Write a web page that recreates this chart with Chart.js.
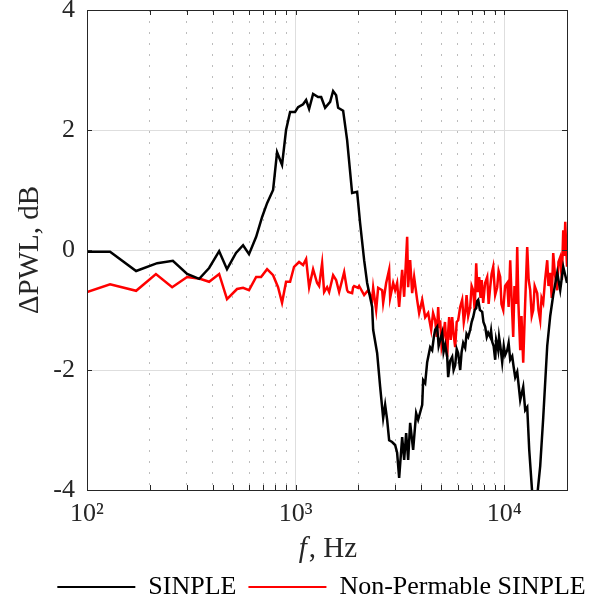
<!DOCTYPE html>
<html lang="en">
<head>
    <meta charset="UTF-8">
    <title>ΔPWL vs frequency</title>
    <script src="https://cdn.jsdelivr.net/npm/chart.js@4.4.0/dist/chart.umd.min.js"></script>
    <style>
        html, body { margin: 0; padding: 0; background: #fff; }
        #wrap { width: 603px; height: 606px; }
    </style>
</head>
<body>
<div id="wrap"><canvas id="chart"></canvas></div>
<script>
    // SINPLE (black)
    const sinpleFreq = [100, 129, 172, 217, 258, 302, 345, 385, 430, 469, 518, 560, 598, 647, 691, 730, 780, 815, 861, 900,
        941, 994, 1028, 1086, 1123, 1161, 1213, 1282, 1326, 1385, 1464, 1513, 1564, 1599, 1690, 1766, 1866, 1972, 2038, 2131,
        2203, 2328, 2354, 2460, 2543, 2629, 2687, 2747, 2808, 2902, 3000, 3067, 3136, 3242, 3314, 3388, 3464, 3541, 3660, 3783,
        3867, 4045, 4088, 4180, 4273, 4417, 4515, 4600, 4668, 4772, 4850, 4932, 5042, 5120, 5212, 5329, 5388, 5500, 5631, 5720,
        5821, 5920, 6017, 6152, 6250, 6359, 6500, 6600, 6720, 6870, 6980, 7101, 7220, 7341, 7420, 7505, 7650, 7844, 7950, 8108,
        8250, 8381, 8568, 8650, 8759, 8900, 9054, 9150, 9256, 9359, 9450, 9568, 9781, 9950, 10110, 10337, 10500, 10686, 10924, 11100,
        11292, 11545, 11934, 12334, 12610, 12892, 13180, 13624, 13775, 14395, 14880, 15382, 16077, 16619, 17179, 17955, 18560, 19187, 19616, 20000];
    const sinpleDb = [-0.03, -0.03, -0.35, -0.22, -0.18, -0.40, -0.48, -0.30, -0.02, -0.32, -0.05, 0.08, -0.07, 0.22, 0.55, 0.78, 1.00, 1.63, 1.42, 2.00,
        2.30, 2.30, 2.38, 2.43, 2.50, 2.35, 2.60, 2.55, 2.55, 2.37, 2.47, 2.65, 2.58, 2.37, 2.32, 1.83, 0.95, 0.97, 0.45, -0.17,
        -0.55, -0.95, -1.33, -1.72, -2.28, -2.80, -2.58, -2.83, -3.17, -3.20, -3.25, -3.38, -3.80, -3.12, -3.50, -3.05, -3.50, -2.88, -3.33, -2.72,
        -2.83, -2.58, -2.17, -2.22, -1.87, -1.62, -1.67, -1.45, -1.33, -1.28, -1.60, -1.50, -1.38, -1.70, -1.58, -1.78, -2.12, -1.85, -1.78, -2.00,
        -1.92, -1.65, -1.72, -2.00, -1.70, -1.55, -1.63, -1.40, -1.45, -1.33, -1.20, -1.12, -1.00, -0.97, -0.85, -0.83, -1.00, -1.03, -1.20, -1.28,
        -1.45, -1.38, -1.45, -1.35, -1.53, -1.60, -1.83, -1.50, -1.58, -1.67, -1.45, -1.58, -1.87, -1.60, -1.75, -1.67, -1.55, -1.83, -1.77, -1.95,
        -2.12, -2.03, -2.50, -2.28, -2.67, -2.62, -3.33, -4.05, -4.25, -4.10, -3.60, -2.80, -1.60, -1.10, -0.75, -0.38, -0.67, -0.28, -0.42, -0.55];

    // Non-Permable SINPLE (red)
    const nonPermFreq = [100, 129, 172, 214, 256, 302, 348, 385, 430, 469, 524, 560, 598, 647, 683, 730, 780, 824, 861, 900,
        941, 983, 1039, 1086, 1123, 1161, 1213, 1268, 1296, 1340, 1370, 1416, 1448, 1513, 1564, 1617, 1709, 1766, 1786, 1866,
        1887, 1908, 1994, 2016, 2131, 2227, 2328, 2354, 2433, 2487, 2600, 2629, 2717, 2808, 2839, 2935, 3000, 3067, 3136, 3242,
        3314, 3426, 3464, 3541, 3620, 3700, 3825, 3910, 4045, 4180, 4320, 4466, 4560, 4668, 4750, 4825, 4880, 4932, 5010, 5098,
        5200, 5329, 5390, 5447, 5540, 5631, 5720, 5821, 5920, 6017, 6150, 6289, 6400, 6500, 6600, 6720, 6870, 6980, 7101, 7220,
        7341, 7450, 7589, 7700, 7800, 7931, 8100, 8289, 8420, 8568, 8700, 8857, 9050, 9256, 9400, 9568, 9700, 9890, 10100, 10337,
        10500, 10686, 10850, 11046, 11200, 11400, 11545, 11700, 11934, 12100, 12334, 12600, 12892, 13100, 13326, 13550, 13775, 14000, 14395, 14600,
        14880, 15100, 15382, 15700, 16077, 16300, 16619, 16900, 17179, 17500, 17955, 18200, 18560, 18900, 19187, 19400, 19616, 19800, 20000];
    const nonPermDb = [-0.70, -0.57, -0.68, -0.40, -0.62, -0.45, -0.48, -0.53, -0.40, -0.82, -0.65, -0.63, -0.67, -0.45, -0.45, -0.32, -0.42, -0.62, -0.88, -0.53,
        -0.53, -0.28, -0.20, -0.25, -0.15, -0.62, -0.32, -0.55, -0.60, -0.22, -0.70, -0.62, -0.70, -0.42, -0.50, -0.70, -0.37, -0.67, -0.70, -0.72,
        -0.62, -0.60, -0.63, -0.60, -0.75, -0.67, -0.83, -0.63, -1.00, -0.63, -0.67, -0.88, -0.55, -0.33, -0.80, -0.55, -0.67, -0.55, -0.95, -0.33,
        -0.78, 0.22, -0.62, -0.17, -0.72, -0.45, -0.83, -1.05, -0.83, -1.12, -1.05, -1.33, -1.05, -1.17, -1.45, -0.95, -1.30, -1.17, -1.60, -1.45,
        -1.20, -1.78, -1.35, -1.12, -1.50, -1.12, -1.40, -1.62, -1.20, -1.17, -0.95, -0.83, -1.20, -1.05, -0.75, -1.10, -0.95, -0.60, -0.67, -1.00,
        -0.22, -0.70, -0.45, -0.80, -0.50, -0.88, -0.55, -0.45, -0.90, -0.62, -0.40, -0.28, -0.75, -0.62, -0.35, -0.45, -0.90, -1.00, -0.60, -0.55,
        -0.95, -0.17, -0.80, -1.45, -0.60, -0.90, 0.05, -0.90, -1.67, -1.10, -1.88, -0.90, 0.05, -0.50, -0.67, -1.10, -1.00, -0.60, -0.72, -1.00,
        -1.17, -0.80, -0.88, -0.50, -0.17, -0.60, -0.38, -0.80, -0.05, -0.40, -0.67, -0.20, -0.12, -0.50, 0.33, -0.10, 0.47, 0.10, -0.28];

    const xMajorTicks = [100, 1000, 10000];
    const xMajorLabels = ['10²', '10³', '10⁴'];
    const xMinorTicks = [200, 300, 400, 500, 600, 700, 800, 900, 2000, 3000, 4000, 5000, 6000, 7000, 8000, 9000, 20000];
    const yTicks = [-4, -2, 0, 2, 4];

    const FONT = "'Liberation Serif', 'DejaVu Serif', serif";
    const AXIS = '#262626';
    Chart.defaults.font.family = FONT;
    Chart.defaults.color = AXIS;

    const toPoints = (xs, ys) => xs.map((x, i) => ({ x: x, y: ys[i] }));

    // frame, inner tick marks and axis titles
    const framePlugin = {
        id: 'frame',
        afterDatasetsDraw(chart) {
            const { ctx, chartArea: a, scales } = chart;
            ctx.save();
            ctx.strokeStyle = AXIS;
            ctx.lineWidth = 1;
            ctx.beginPath();
            xMajorTicks.concat(xMinorTicks).forEach(v => {
                const px = Math.round(scales.x.getPixelForValue(v)) + 0.5;
                if (px <= a.left + 1 || px >= a.right - 1) return;
                ctx.moveTo(px, a.bottom); ctx.lineTo(px, a.bottom - 5);
                ctx.moveTo(px, a.top); ctx.lineTo(px, a.top + 5);
            });
            yTicks.forEach(v => {
                const py = Math.round(scales.y.getPixelForValue(v)) + 0.5;
                ctx.moveTo(a.left, py); ctx.lineTo(a.left + 5, py);
                ctx.moveTo(a.right, py); ctx.lineTo(a.right - 5, py);
            });
            ctx.stroke();
            ctx.strokeRect(Math.round(a.left) + 0.5, Math.round(a.top) + 0.5,
                Math.round(a.right - a.left), Math.round(a.bottom - a.top));
            ctx.restore();
        },
        afterDraw(chart) {
            const { ctx, chartArea: a } = chart;
            ctx.save();
            ctx.fillStyle = AXIS;
            ctx.textBaseline = 'middle';
            // x title: italic f
            const italic = 'italic 29px ' + FONT, upright = '29px ' + FONT;
            ctx.font = italic;
            const w1 = ctx.measureText('f').width;
            ctx.font = upright;
            const w2 = ctx.measureText(', Hz').width;
            let x0 = (a.left + a.right) / 2 - (w1 + w2) / 2;
            ctx.textAlign = 'left';
            ctx.font = italic;
            ctx.fillText('f', x0, 549);
            ctx.font = upright;
            ctx.fillText(', Hz', x0 + w1 + 2, 549);
            // y title
            ctx.translate(30, (a.top + a.bottom) / 2);
            ctx.rotate(-Math.PI / 2);
            ctx.textAlign = 'center';
            ctx.fillText('ΔPWL, dB', 0, 0);
            ctx.restore();
        }
    };

    const isMajor = c => c.tick && xMajorTicks.includes(c.tick.value);

    new Chart(document.getElementById('chart'), {
        type: 'line',
        data: {
            datasets: [{
                label: 'SINPLE',
                data: toPoints(sinpleFreq, sinpleDb),
                borderColor: '#000000',
                backgroundColor: '#000000',
                borderWidth: 2.5,
                pointRadius: 0,
                tension: 0
            }, {
                label: 'Non-Permable SINPLE',
                data: toPoints(nonPermFreq, nonPermDb),
                borderColor: '#ff0000',
                backgroundColor: '#ff0000',
                borderWidth: 2.5,
                pointRadius: 0,
                tension: 0
            }]
        },
        options: {
            responsive: true,
            maintainAspectRatio: false,
            animation: false,
            layout: { padding: { left: 40, right: 0, top: 10, bottom: 0 } },
            scales: {
                x: {
                    type: 'logarithmic',
                    min: 100,
                    max: 20000,
                    afterBuildTicks: s => {
                        s.ticks = xMajorTicks.concat(xMinorTicks).sort((p, q) => p - q).map(v => ({ value: v }));
                    },
                    afterFit: s => { s.height = 72; },
                    ticks: {
                        autoSkip: false,
                        maxRotation: 0,
                        padding: 9,
                        color: AXIS,
                        font: { size: 26 },
                        callback: v => {
                            const i = xMajorTicks.indexOf(v);
                            return i >= 0 ? xMajorLabels[i] : '';
                        }
                    },
                    grid: {
                        drawTicks: false,
                        lineWidth: 1,
                        color: c => isMajor(c) ? '#dedede' : '#bcbcbc'
                    },
                    border: {
                        display: false,
                        dash: c => isMajor(c) ? [] : [2, 9]
                    }
                },
                y: {
                    min: -4,
                    max: 4,
                    afterBuildTicks: s => { s.ticks = yTicks.map(v => ({ value: v })); },
                    afterFit: s => { s.width = 47; s.paddingTop = 0; s.paddingBottom = 0; },
                    ticks: {
                        padding: 12,
                        color: AXIS,
                        font: { size: 26, lineHeight: 0.8 },
                        callback: v => (v < 0 ? '-' + Math.abs(v) : String(v))
                    },
                    grid: { drawTicks: false, color: '#dedede', lineWidth: 1 },
                    border: { display: false }
                },
                yRight: {
                    position: 'right',
                    display: true,
                    min: -4,
                    max: 4,
                    afterFit: s => { s.width = 36; s.paddingTop = 0; s.paddingBottom = 0; },
                    ticks: { display: false },
                    grid: { display: false, drawTicks: false },
                    border: { display: false }
                }
            },
            plugins: {
                tooltip: { enabled: false },
                legend: {
                    position: 'bottom',
                    maxHeight: 44,
                    labels: {
                        color: '#000000',
                        font: { size: 26 },
                        boxWidth: 78,
                        boxHeight: 2,
                        padding: 12,
                        generateLabels: chart => Chart.defaults.plugins.legend.labels.generateLabels(chart)
                            .map(l => Object.assign(l, { lineWidth: 0, fillStyle: l.strokeStyle }))
                    }
                }
            }
        },
        plugins: [framePlugin]
    });
</script>
</body>
</html>
